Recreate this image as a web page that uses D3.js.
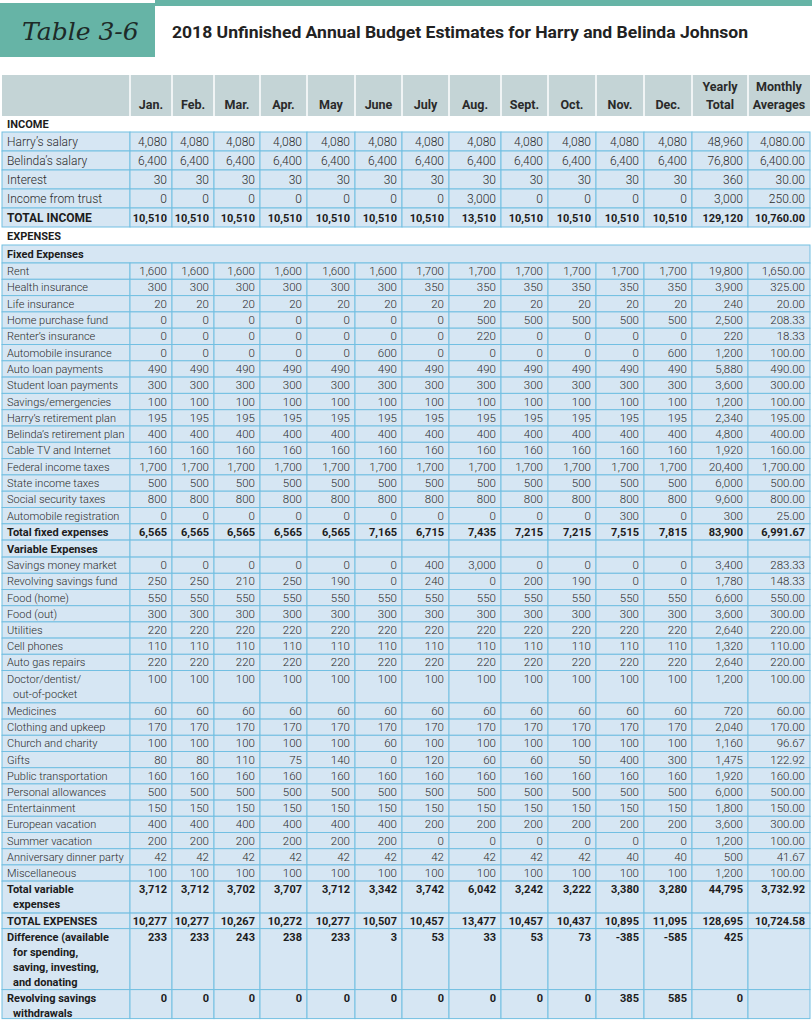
<!DOCTYPE html>
<html>
<head>
<meta charset="utf-8">
<script src="https://cdn.jsdelivr.net/npm/d3@7"></script>
<style>
body { margin: 0; background: #fff; }
svg text { font-family: Roboto, "Noto Sans", sans-serif; }
</style>
</head>
<body>
<svg id="chart" width="812" height="1020"></svg>
<script>
var months = ["Jan.", "Feb.", "Mar.", "Apr.", "May", "June", "July", "Aug.", "Sept.", "Oct.", "Nov.", "Dec."];
var extraHeaders = [["Yearly", "Total"], ["Monthly", "Averages"]];

// each row: 12 months, yearly total, monthly average
var harrysSalary      = [4080, 4080, 4080, 4080, 4080, 4080, 4080, 4080, 4080, 4080, 4080, 4080, 48960, 4080];
var belindasSalary    = [6400, 6400, 6400, 6400, 6400, 6400, 6400, 6400, 6400, 6400, 6400, 6400, 76800, 6400];
var interest          = [30, 30, 30, 30, 30, 30, 30, 30, 30, 30, 30, 30, 360, 30];
var incomeFromTrust   = [0, 0, 0, 0, 0, 0, 0, 3000, 0, 0, 0, 0, 3000, 250];
var totalIncome       = [10510, 10510, 10510, 10510, 10510, 10510, 10510, 13510, 10510, 10510, 10510, 10510, 129120, 10760];

var rent              = [1600, 1600, 1600, 1600, 1600, 1600, 1700, 1700, 1700, 1700, 1700, 1700, 19800, 1650];
var healthInsurance   = [300, 300, 300, 300, 300, 300, 350, 350, 350, 350, 350, 350, 3900, 325];
var lifeInsurance     = [20, 20, 20, 20, 20, 20, 20, 20, 20, 20, 20, 20, 240, 20];
var homePurchaseFund  = [0, 0, 0, 0, 0, 0, 0, 500, 500, 500, 500, 500, 2500, 208.33];
var rentersInsurance  = [0, 0, 0, 0, 0, 0, 0, 220, 0, 0, 0, 0, 220, 18.33];
var autoInsurance     = [0, 0, 0, 0, 0, 600, 0, 0, 0, 0, 0, 600, 1200, 100];
var autoLoan          = [490, 490, 490, 490, 490, 490, 490, 490, 490, 490, 490, 490, 5880, 490];
var studentLoan       = [300, 300, 300, 300, 300, 300, 300, 300, 300, 300, 300, 300, 3600, 300];
var savingsEmergency  = [100, 100, 100, 100, 100, 100, 100, 100, 100, 100, 100, 100, 1200, 100];
var harrysRetirement  = [195, 195, 195, 195, 195, 195, 195, 195, 195, 195, 195, 195, 2340, 195];
var belindasRetirement= [400, 400, 400, 400, 400, 400, 400, 400, 400, 400, 400, 400, 4800, 400];
var cableInternet     = [160, 160, 160, 160, 160, 160, 160, 160, 160, 160, 160, 160, 1920, 160];
var federalTaxes      = [1700, 1700, 1700, 1700, 1700, 1700, 1700, 1700, 1700, 1700, 1700, 1700, 20400, 1700];
var stateTaxes        = [500, 500, 500, 500, 500, 500, 500, 500, 500, 500, 500, 500, 6000, 500];
var socialSecurity    = [800, 800, 800, 800, 800, 800, 800, 800, 800, 800, 800, 800, 9600, 800];
var autoRegistration  = [0, 0, 0, 0, 0, 0, 0, 0, 0, 0, 300, 0, 300, 25];
var totalFixed        = [6565, 6565, 6565, 6565, 6565, 7165, 6715, 7435, 7215, 7215, 7515, 7815, 83900, 6991.67];

var savingsMoneyMarket= [0, 0, 0, 0, 0, 0, 400, 3000, 0, 0, 0, 0, 3400, 283.33];
var revolvingFund     = [250, 250, 210, 250, 190, 0, 240, 0, 200, 190, 0, 0, 1780, 148.33];
var foodHome          = [550, 550, 550, 550, 550, 550, 550, 550, 550, 550, 550, 550, 6600, 550];
var foodOut           = [300, 300, 300, 300, 300, 300, 300, 300, 300, 300, 300, 300, 3600, 300];
var utilities         = [220, 220, 220, 220, 220, 220, 220, 220, 220, 220, 220, 220, 2640, 220];
var cellPhones        = [110, 110, 110, 110, 110, 110, 110, 110, 110, 110, 110, 110, 1320, 110];
var autoGasRepairs    = [220, 220, 220, 220, 220, 220, 220, 220, 220, 220, 220, 220, 2640, 220];
var doctorDentist     = [100, 100, 100, 100, 100, 100, 100, 100, 100, 100, 100, 100, 1200, 100];
var medicines         = [60, 60, 60, 60, 60, 60, 60, 60, 60, 60, 60, 60, 720, 60];
var clothing          = [170, 170, 170, 170, 170, 170, 170, 170, 170, 170, 170, 170, 2040, 170];
var churchCharity     = [100, 100, 100, 100, 100, 60, 100, 100, 100, 100, 100, 100, 1160, 96.67];
var gifts             = [80, 80, 110, 75, 140, 0, 120, 60, 60, 50, 400, 300, 1475, 122.92];
var publicTransport   = [160, 160, 160, 160, 160, 160, 160, 160, 160, 160, 160, 160, 1920, 160];
var personalAllowance = [500, 500, 500, 500, 500, 500, 500, 500, 500, 500, 500, 500, 6000, 500];
var entertainment     = [150, 150, 150, 150, 150, 150, 150, 150, 150, 150, 150, 150, 1800, 150];
var europeanVacation  = [400, 400, 400, 400, 400, 400, 200, 200, 200, 200, 200, 200, 3600, 300];
var summerVacation    = [200, 200, 200, 200, 200, 200, 0, 0, 0, 0, 0, 0, 1200, 100];
var anniversaryParty  = [42, 42, 42, 42, 42, 42, 42, 42, 42, 42, 40, 40, 500, 41.67];
var miscellaneous     = [100, 100, 100, 100, 100, 100, 100, 100, 100, 100, 100, 100, 1200, 100];
var totalVariable     = [3712, 3712, 3702, 3707, 3712, 3342, 3742, 6042, 3242, 3222, 3380, 3280, 44795, 3732.92];

var totalExpenses     = [10277, 10277, 10267, 10272, 10277, 10507, 10457, 13477, 10457, 10437, 10895, 11095, 128695, 10724.58];
var difference        = [233, 233, 243, 238, 233, 3, 53, 33, 53, 73, -385, -585, 425, null];
var revolvingWithdraw = [0, 0, 0, 0, 0, 0, 0, 0, 0, 0, 385, 585, 0, null];

// row list: kind, label lines, values, height
var rows = [
    {kind: "section", label: ["INCOME"], h: 16},
    {kind: "row", label: ["Harry\u2019s salary"], values: harrysSalary, h: 19, big: true},
    {kind: "row", label: ["Belinda\u2019s salary"], values: belindasSalary, h: 19, big: true},
    {kind: "row", label: ["Interest"], values: interest, h: 19, big: true},
    {kind: "row", label: ["Income from trust"], values: incomeFromTrust, h: 19, big: true},
    {kind: "total", label: ["TOTAL INCOME"], values: totalIncome, h: 19, big: true},
    {kind: "section", label: ["EXPENSES"], h: 18},
    {kind: "band", label: ["Fixed Expenses"], h: 18},
    {kind: "row", label: ["Rent"], values: rent},
    {kind: "row", label: ["Health insurance"], values: healthInsurance},
    {kind: "row", label: ["Life insurance"], values: lifeInsurance},
    {kind: "row", label: ["Home purchase fund"], values: homePurchaseFund},
    {kind: "row", label: ["Renter\u2019s insurance"], values: rentersInsurance},
    {kind: "row", label: ["Automobile insurance"], values: autoInsurance},
    {kind: "row", label: ["Auto loan payments"], values: autoLoan},
    {kind: "row", label: ["Student loan payments"], values: studentLoan},
    {kind: "row", label: ["Savings/emergencies"], values: savingsEmergency},
    {kind: "row", label: ["Harry\u2019s retirement plan"], values: harrysRetirement},
    {kind: "row", label: ["Belinda\u2019s retirement plan"], values: belindasRetirement},
    {kind: "row", label: ["Cable TV and Internet"], values: cableInternet},
    {kind: "row", label: ["Federal income taxes"], values: federalTaxes},
    {kind: "row", label: ["State income taxes"], values: stateTaxes},
    {kind: "row", label: ["Social security taxes"], values: socialSecurity},
    {kind: "row", label: ["Automobile registration"], values: autoRegistration},
    {kind: "total", label: ["Total fixed expenses"], values: totalFixed},
    {kind: "subhead", label: ["Variable Expenses"], h: 17},
    {kind: "row", label: ["Savings money market"], values: savingsMoneyMarket, h: 16.2},
    {kind: "row", label: ["Revolving savings fund"], values: revolvingFund, h: 16.2},
    {kind: "row", label: ["Food (home)"], values: foodHome, h: 16.2},
    {kind: "row", label: ["Food (out)"], values: foodOut, h: 16.2},
    {kind: "row", label: ["Utilities"], values: utilities, h: 16.2},
    {kind: "row", label: ["Cell phones"], values: cellPhones, h: 16.2},
    {kind: "row", label: ["Auto gas repairs"], values: autoGasRepairs, h: 16.2},
    {kind: "row", label: ["Doctor/dentist/", "out-of-pocket"], values: doctorDentist, h: 32.4},
    {kind: "row", label: ["Medicines"], values: medicines, h: 16.2},
    {kind: "row", label: ["Clothing and upkeep"], values: clothing, h: 16.2},
    {kind: "row", label: ["Church and charity"], values: churchCharity, h: 16.2},
    {kind: "row", label: ["Gifts"], values: gifts, h: 16.2},
    {kind: "row", label: ["Public transportation"], values: publicTransport, h: 16.2},
    {kind: "row", label: ["Personal allowances"], values: personalAllowance, h: 16.2},
    {kind: "row", label: ["Entertainment"], values: entertainment, h: 16.2},
    {kind: "row", label: ["European vacation"], values: europeanVacation, h: 16.2},
    {kind: "row", label: ["Summer vacation"], values: summerVacation, h: 16.2},
    {kind: "row", label: ["Anniversary dinner party"], values: anniversaryParty, h: 16.2},
    {kind: "row", label: ["Miscellaneous"], values: miscellaneous, h: 16.2},
    {kind: "total", label: ["Total variable", "expenses"], values: totalVariable, h: 32},
    {kind: "total", label: ["TOTAL EXPENSES"], values: totalExpenses, h: 15.5},
    {kind: "total", label: ["Difference (available", "for spending,", "saving, investing,", "and donating"], values: difference, h: 61},
    {kind: "total", label: ["Revolving savings", "withdrawals"], values: revolvingWithdraw, h: 29}
];

// ---- layout ----
var svg = d3.select("#chart");
var fillCell = "#d6e6f3", lineCol = "#72bfe2", headFill = "#c4d4d6", teal = "#66b4a6";
var textCol = "#2b2b2b", boldCol = "#1c1c1c";

var colKeys = months.concat(["yearly", "avg"]);
var colEdges = [130, 172, 214, 260, 307, 355, 402, 449, 501, 548, 596, 644, 692, 748, 810];
var xLeft = d3.scaleOrdinal().domain(colKeys).range(colEdges.slice(0, -1));
var xRight = d3.scaleOrdinal().domain(colKeys).range(colEdges.slice(1));
var tableLeft = 2, labelRight = 130, tableRight = 810;

var loc = d3.formatLocale({decimal: ".", thousands: ",", grouping: [3], currency: ["$", ""], minus: "-"});
var fInt = loc.format(","), fDec = loc.format(",.2f");

// title
svg.append("rect").attr("x", 155).attr("y", 0).attr("width", 657).attr("height", 6).attr("fill", teal);
svg.append("rect").attr("x", 0).attr("y", 3).attr("width", 155).attr("height", 54).attr("fill", teal);
svg.append("text")
    .attr("x", 22).attr("y", 40)
    .style("font-family", "'DejaVu Serif', serif")
    .style("font-style", "italic")
    .style("font-size", "25px")
    .attr("fill", "#1d2a28")
    .text("Table 3-6");
svg.append("text")
    .attr("x", 172).attr("y", 38)
    .style("font-size", "16px")
    .style("font-weight", 700)
    .attr("fill", "#222")
    .attr("textLength", 576)
    .attr("lengthAdjust", "spacingAndGlyphs")
    .text("2018 Unfinished Annual Budget Estimates for Harry and Belinda Johnson");

// header band
var headTop = 75, headBottom = 116;
var head = svg.append("g");
head.append("rect")
    .attr("x", tableLeft).attr("y", headTop)
    .attr("width", tableRight - tableLeft).attr("height", headBottom - headTop)
    .attr("fill", headFill);

var headCells = head.selectAll("g.hc")
    .data(colKeys)
    .enter().append("g").attr("class", "hc");

headCells.append("line")
    .attr("x1", function(d) { return xLeft(d); })
    .attr("x2", function(d) { return xLeft(d); })
    .attr("y1", headTop).attr("y2", headBottom)
    .attr("stroke", "#fff").attr("stroke-width", 1.5);

headCells.each(function(d, i) {
    var lines = i < 12 ? [d] : extraHeaders[i - 12];
    var cx = (xLeft(d) + xRight(d)) / 2;
    var g = d3.select(this);
    lines.forEach(function(t, j) {
        g.append("text")
            .attr("x", cx)
            .attr("y", headBottom - 7 - (lines.length - 1 - j) * 18)
            .attr("text-anchor", "middle")
            .style("font-size", "12.5px")
            .style("font-weight", 700)
            .attr("fill", "#2a2a2a")
            .text(t);
    });
});

// body rows
var y = headBottom;
rows.forEach(function(r) {
    r.y = y;
    if (!r.h) r.h = 16.3;
    y += r.h;
});

var body = svg.append("g");
var rowG = body.selectAll("g.row")
    .data(rows)
    .enter().append("g")
    .attr("class", "row")
    .attr("transform", function(d) { return "translate(0," + d.y + ")"; });

rowG.each(function(r) {
    var g = d3.select(this);
    var bold = r.kind !== "row";
    var labelSize = r.big ? "12px" : "11px";
    var numSize = bold ? "11px" : (r.big ? "12px" : "11.5px");

    if (r.kind === "band") {
        g.append("rect")
            .attr("x", tableLeft).attr("y", 0)
            .attr("width", tableRight - tableLeft).attr("height", r.h)
            .attr("fill", fillCell).attr("stroke", lineCol).attr("stroke-width", 1);
    } else if (r.kind !== "section") {
        g.append("rect")
            .attr("x", tableLeft).attr("y", 0)
            .attr("width", labelRight - tableLeft).attr("height", r.h)
            .attr("fill", fillCell).attr("stroke", lineCol).attr("stroke-width", 1);
        g.selectAll("rect.cell")
            .data(colKeys)
            .enter().append("rect")
            .attr("class", "cell")
            .attr("x", function(d) { return xLeft(d); })
            .attr("y", 0)
            .attr("width", function(d) { return xRight(d) - xLeft(d); })
            .attr("height", r.h)
            .attr("fill", fillCell).attr("stroke", lineCol).attr("stroke-width", 1);
    }

    var multi = r.label.length > 1;
    var base = multi ? 12 : r.h / 2 + 4;

    r.label.forEach(function(t, j) {
        g.append("text")
            .attr("x", 7 + (j > 0 ? 6 : 0))
            .attr("y", base + j * 15)
            .style("font-size", labelSize)
            .style("font-weight", bold ? 700 : 300)
            .attr("fill", bold ? boldCol : textCol)
            .text(t);
    });

    if (r.values) {
        g.selectAll("text.v")
            .data(r.values.map(function(v, i) { return {v: v, key: colKeys[i], i: i}; })
                .filter(function(d) { return d.v !== null; }))
            .enter().append("text")
            .attr("class", "v")
            .attr("x", function(d) { return xRight(d.key) - 5; })
            .attr("y", base)
            .attr("text-anchor", "end")
            .style("font-size", numSize)
            .style("font-weight", bold ? 700 : 300)
            .attr("fill", bold ? boldCol : textCol)
            .text(function(d) { return d.i === 13 ? fDec(d.v) : fInt(d.v); });
    }
});
</script>
</body>
</html>
